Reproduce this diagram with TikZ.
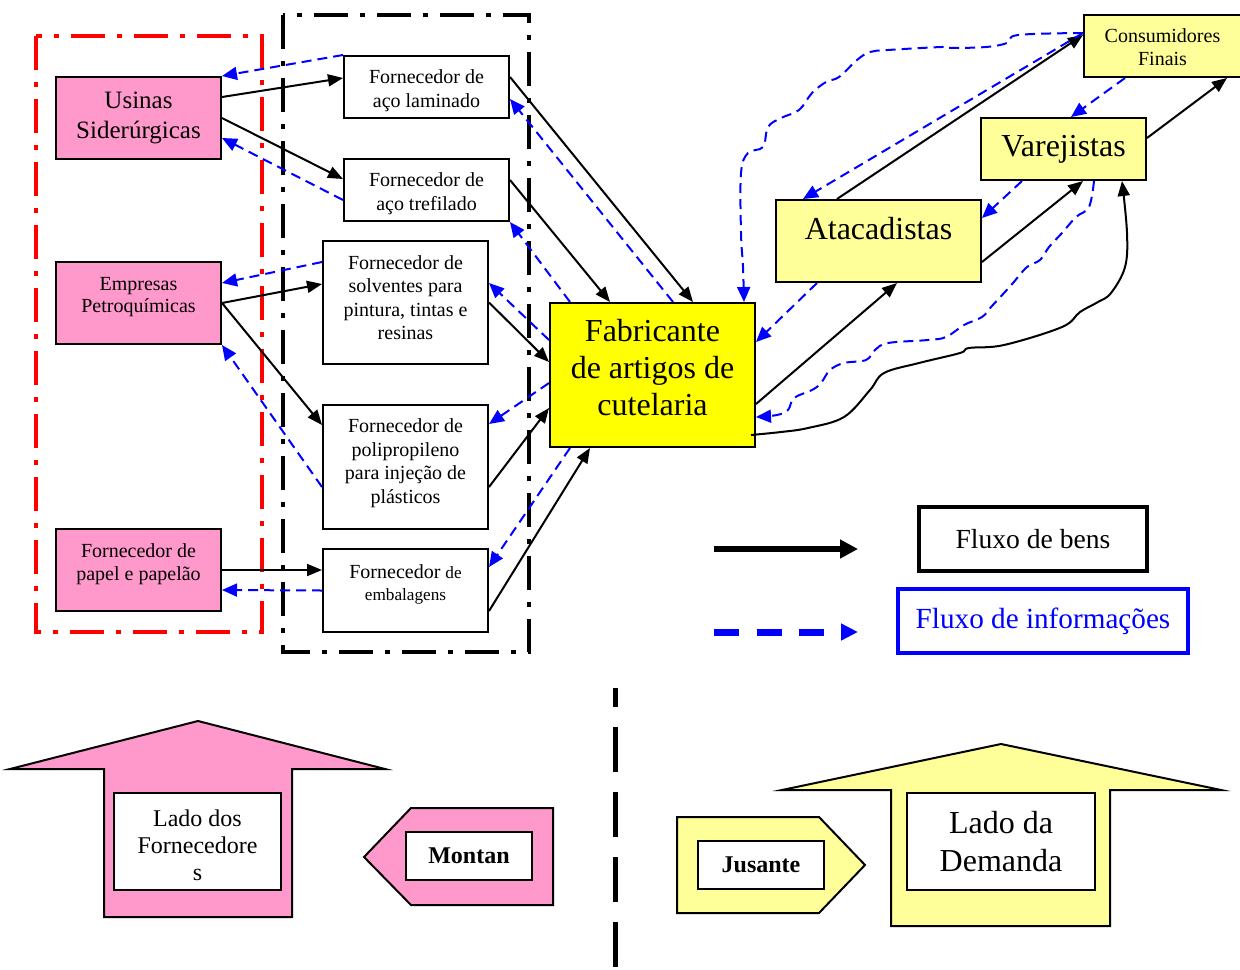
\documentclass[tikz,border=0pt]{standalone}
\usepackage{fontspec}
\setmainfont{Liberation Serif}
\usetikzlibrary{arrows.meta}
\definecolor{pinkF}{HTML}{FF99CC}
\definecolor{lyel}{HTML}{FFFF99}
\definecolor{yel}{HTML}{FFFF00}
\newcommand{\dpt}[1]{\rule[-#1]{0pt}{#1}}
\newcommand{\upt}[1]{\rule{0pt}{#1}}
\newcommand{\fs}[2]{\fontsize{#1}{#2}\selectfont}
\begin{document}
\begin{tikzpicture}[x=0.5pt,y=-0.5pt,
  box/.style={draw, line width=1pt, inner sep=0pt, align=center},
  goods/.style={line width=1pt, -{Triangle[length=7.5pt,width=6pt]}},
  info/.style={blue, line width=1pt, dash pattern=on 5pt off 3pt, -{Triangle[length=7.5pt,width=6.5pt]}},
  ddot/.style={line width=2pt, dash pattern=on 17pt off 6pt on 2.5pt off 6pt},
]
\useasboundingbox (0,0) rectangle (1240,969);

% dash-dot frames
\draw[red, ddot] (36,36) rectangle (262,632);
\draw[ddot] (283,15) rectangle (529,652);

% boxes
\node[box, fill=pinkF, minimum width=82.5pt, minimum height=41pt, font=\fs{12.5}{15}] (usinas) at (138.5,118) {Usinas\\Siderúrgicas};
\node[box, fill=pinkF, minimum width=82.5pt, minimum height=41pt, font=\fs{10}{11}] (petro) at (138.5,303) {Empresas\\Petroquímicas\dpt{8pt}};
\node[box, fill=pinkF, minimum width=82.5pt, minimum height=41pt, font=\fs{10}{11.5}] (papel) at (138.5,570) {Fornecedor de\\papel e papelão\dpt{8pt}};

\node[box, fill=white, minimum width=82.5pt, minimum height=31pt, font=\fs{10}{12}] (lam) at (426.5,87) {\upt{10.8pt}Fornecedor de\\aço laminado};
\node[box, fill=white, minimum width=82.5pt, minimum height=31pt, font=\fs{10}{12}] (tref) at (426.5,190) {\upt{10.8pt}Fornecedor de\\aço trefilado};
\node[box, fill=white, minimum width=82.5pt, minimum height=61.5pt, font=\fs{10}{11.75}] (solv) at (405.5,302.5) {Fornecedor de\\solventes para\\pintura, tintas e\\resinas\dpt{5pt}};
\node[box, fill=white, minimum width=82.5pt, minimum height=62pt, font=\fs{10}{11.75}] (poli) at (405.5,467) {Fornecedor de\\polipropileno\\para injeção de\\plásticos\dpt{6pt}};
\node[box, fill=white, minimum width=82.5pt, minimum height=41.5pt, font=\fs{10}{11}] (emb) at (405.5,590.5) {Fornecedor {\fs{8.6}{11}de}\\{\fs{8.6}{11}embalagens}\dpt{8pt}};

\node[box, fill=yel, minimum width=102.5pt, minimum height=72pt, font=\fs{16}{18.5}] (fab) at (652.5,375) {Fabricante\\de artigos de\\cutelaria\dpt{7.5pt}};
\node[box, fill=lyel, minimum width=102.5pt, minimum height=41pt, font=\fs{16}{19}] (atac) at (878.5,241) {Atacadistas\dpt{13pt}};
\node[box, fill=lyel, minimum width=82.5pt, minimum height=31pt, font=\fs{16}{19}] (varej) at (1063.5,149) {Varejistas};
\node[box, fill=lyel, minimum width=78.5pt, minimum height=31pt, font=\fs{10}{11.5}] (cons) at (1162.5,46) {\upt{8.5pt}Consumidores\\Finais};

% supplier side connectors
\draw[goods] ([yshift=10.5pt]usinas.east) -- ([yshift=4.5pt]lam.west);
\draw[goods] (usinas.east) -- ([yshift=5.5pt]tref.west);
\draw[info] (lam.north west) -- (usinas.north east);
\draw[info] ([yshift=-5pt]tref.west) -- ([yshift=-10pt]usinas.east);
\draw[goods] (petro.east) -- ([yshift=9.25pt]solv.west);
\draw[info] ([yshift=20.25pt]solv.west) -- ([yshift=10pt]petro.east);
\draw[goods] (petro.east) -- ([yshift=21pt]poli.west);
\draw[info] ([yshift=-10pt]poli.west) -- (petro.south east);
\draw[goods] (papel.east) -- ([yshift=10.25pt]emb.west);
\draw[info] (emb.west) -- ([yshift=-10pt]papel.east);

\draw[goods] ([yshift=5pt]lam.east) -- ([xshift=20.25pt]fab.north);
\draw[goods] ([yshift=5pt]tref.east) -- ([xshift=-21.25pt]fab.north);
\draw[goods] (solv.east) -- ([yshift=6.5pt]fab.west);
\draw[goods] ([yshift=-10pt]poli.east) -- ([yshift=-16.5pt]fab.west);
\draw[goods] ([yshift=-10.25pt]emb.east) -- ([xshift=-31.25pt]fab.south);
\draw[info] ([xshift=10.25pt]fab.north) -- ([yshift=-6pt]lam.east);
\draw[info] ([xshift=-41.25pt]fab.north) -- (tref.south east);
\draw[info] ([yshift=17.5pt]fab.west) -- ([yshift=9.75pt]solv.east);
\draw[info] ([yshift=-4pt]fab.west) -- ([yshift=21.5pt]poli.east);
\draw[info] ([xshift=-41.25pt]fab.south) -- ([yshift=11.75pt]emb.east);

% demand side connectors
\draw[goods] ([yshift=-14.5pt]fab.east) -- ([xshift=9.25pt]atac.south);
\draw[goods] ([xshift=-20.75pt]atac.north) -- ([yshift=5.5pt]cons.west);
\draw[goods] ([yshift=-10.5pt]atac.east) -- ([xshift=9.75pt]varej.south);
\draw[goods] ([yshift=5.5pt]varej.east) -- ([xshift=32.25pt]cons.south);
\draw[goods] plot[smooth, tension=0.6] coordinates {([xshift=-2.5pt,yshift=-30pt]fab.east) (781,432) (808,428) (844,417) (870,390) (884,373) (919,363) (960,353) (969,348) (1004,345) (1062,327) (1080,312) (1098,302) (1111,293) (1125,267) (1127,233) ([xshift=29.25pt]varej.south)};

\draw[info] ([xshift=-30.75pt]atac.south) -- ([yshift=16.5pt]fab.east);
\draw[info] ([xshift=-20.75pt]varej.south) -- ([yshift=11.5pt]atac.east);
\draw[info] ([xshift=-18.75pt]cons.south) -- ([xshift=3.75pt]varej.north);
\draw[info] ([yshift=6.5pt]cons.west) -- ([xshift=-37.75pt]atac.north);
\draw[info] plot[smooth, tension=0.6] coordinates {([yshift=6.5pt]cons.west) (1018,35) (1007,43) (986,47) (951,48) (942,47) (888,50) (870,52) (857,60) (839,77) (826,82) (812,93) (799,110) (781,118) (768,127) (763,147) (748,153) (741,173) (741,233) (743,267) ([xshift=45.75pt]fab.north)};
\draw[info] plot[smooth, tension=0.6] coordinates {([xshift=15.25pt]varej.south) (1089,207) (1076,217) (1062,233) (1049,247) (1040,260) (1027,267) (1013,283) (1004,293) (991,307) (982,317) (964,325) (946,337) (928,340) (888,343) (875,350) (866,360) (844,363) (830,370) (821,383) (812,390) (794,398) (788,410) (777,415) ([yshift=-21pt]fab.east)};

% legend
\coordinate (lg1a) at (714,549);
\coordinate (lg1b) at (858,549);
\coordinate (lg2a) at (714,632);
\coordinate (lg2b) at (858,632);
\draw[line width=3pt, -{Triangle[length=9pt,width=9pt]}] (lg1a) -- (lg1b);
\draw[blue, line width=3.5pt, dash pattern=on 12.5pt off 8.75pt, -{Triangle[length=8.5pt,width=8pt]}] (lg2a) -- (lg2b);
\node[draw, line width=2pt, minimum width=114pt, minimum height=32pt, inner sep=0pt, font=\fs{13.8}{16}] (bens) at (1033,539) {Fluxo de bens};
\node[draw=blue, text=blue, line width=2pt, minimum width=145pt, minimum height=32pt, inner sep=0pt, font=\fs{14.6}{17}] (infos) at (1043,621) {Fluxo de informações};

% bottom: upstream / downstream
\draw[line width=2.5pt, dash pattern=on 22.5pt off 10pt, dash phase=13pt] (615,688) -- (615,969);

\draw[line width=1pt, fill=pinkF] (198,721) -- (385,769) -- (292,769) -- (292,917) -- (104,917) -- (104,769) -- (10,769) -- cycle;
\node[box, fill=white, minimum width=83.5pt, minimum height=48.5pt, font=\fs{12}{13.5}] (lfor) at (197.5,841.5) {\upt{12.4pt}Lado dos\\Fornecedore\\s};

\draw[line width=1pt, fill=pinkF] (364,857) -- (411,808) -- (553,808) -- (553,905) -- (411,905) -- cycle;
\node[box, fill=white, minimum width=63pt, minimum height=24pt, font=\bfseries\fs{12}{14}] (mont) at (469,856) {Montan};

\draw[line width=1pt, fill=lyel] (677,817) -- (819,817) -- (865,865) -- (819,913) -- (677,913) -- cycle;
\node[box, fill=white, minimum width=63pt, minimum height=24pt, font=\bfseries\fs{12}{14}] (jus) at (761,865) {Jusante};

\draw[line width=1pt, fill=lyel] (1001,744) -- (1221,790) -- (1110,790) -- (1110,926) -- (891,926) -- (891,790) -- (782,790) -- cycle;
\node[box, fill=white, minimum width=94pt, minimum height=48.5pt, font=\fs{16}{19}] (ldem) at (1001,841.5) {Lado da\\Demanda};
\end{tikzpicture}
\end{document}
